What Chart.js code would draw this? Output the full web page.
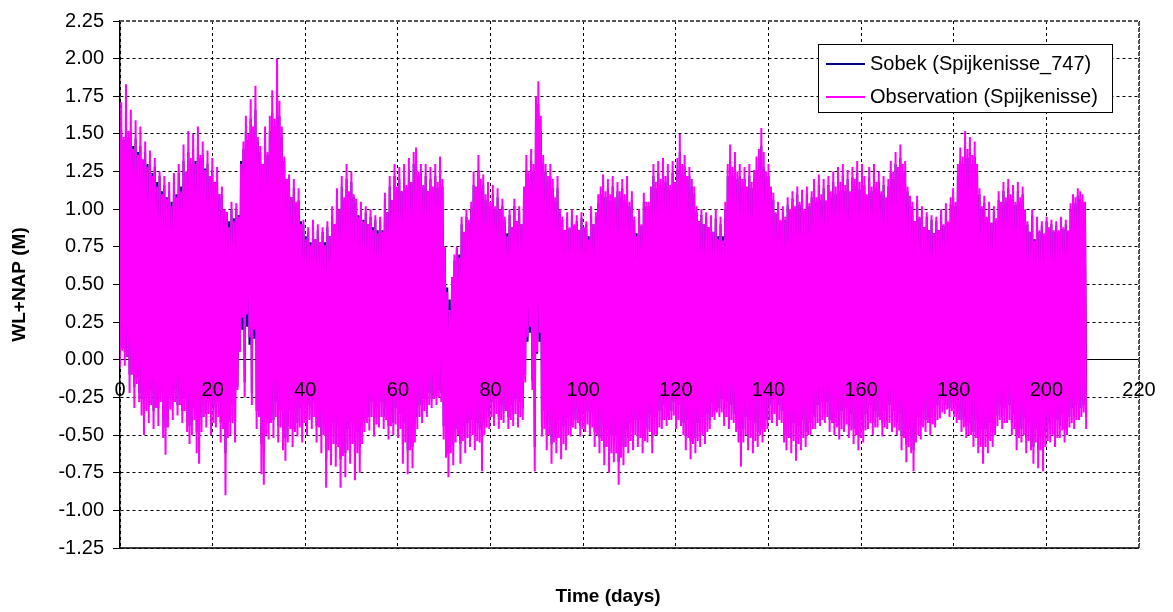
<!DOCTYPE html>
<html>
<head>
<meta charset="utf-8">
<title>Spijkenisse water level</title>
<script src="https://cdn.jsdelivr.net/npm/chart.js@4.4.1/dist/chart.umd.min.js"></script>
<style>
  html, body { margin: 0; padding: 0; background: #fff; }
  #wrap { width: 1173px; height: 612px; }
</style>
</head>
<body>
<div id="wrap"><canvas id="myChart"></canvas></div>
<script>
// Water levels (m + NAP), one low and one high water per tide.
// Each row holds ten tides, roughly 5.2 days.
const obsLow = [
  -0.05, 0.06, -0.04, 0.02, -0.22, -0.10, -0.32, -0.16, -0.28, -0.37,
  -0.50, -0.34, -0.42, -0.30, -0.46, -0.32, -0.44, -0.28, -0.52, -0.63,
  -0.45, -0.33, -0.40, -0.28, -0.37, -0.30, -0.42, -0.34, -0.48, -0.56,
  -0.50, -0.40, -0.62, -0.69, -0.48, -0.38, -0.45, -0.36, -0.50, -0.42,
  -0.45, -0.38, -0.55, -0.46, -0.90, -0.52, -0.50, -0.42, -0.55, -0.20,
  0.05, 0.28, -0.25, 0.30, 0.15, -0.30, 0.20, -0.46, -0.38, -0.76,
  -0.83, -0.50, -0.53, -0.42, -0.52, -0.38, -0.55, -0.45, -0.60, -0.67,
  -0.55, -0.46, -0.58, -0.48, -0.51, -0.45, -0.55, -0.42, -0.50, -0.40,
  -0.46, -0.38, -0.55, -0.45, -0.62, -0.50, -0.85, -0.60, -0.70, -0.56,
  -0.71, -0.58, -0.85, -0.64, -0.78, -0.60, -0.69, -0.56, -0.80, -0.62,
  -0.75, -0.56, -0.48, -0.42, -0.47, -0.38, -0.51, -0.43, -0.45, -0.38,
  -0.46, -0.40, -0.53, -0.44, -0.50, -0.43, -0.52, -0.46, -0.69, -0.55,
  -0.76, -0.60, -0.72, -0.55, -0.46, -0.38, -0.42, -0.34, -0.38, -0.30,
  -0.32, -0.26, -0.30, -0.25, -0.28, -0.53, -0.65, -0.78, -0.62, -0.70,
  -0.55, -0.50, -0.69, -0.54, -0.62, -0.52, -0.58, -0.50, -0.60, -0.54,
  -0.55, -0.74, -0.50, -0.45, -0.46, -0.38, -0.44, -0.36, -0.46, -0.40,
  -0.42, -0.34, -0.46, -0.40, -0.44, -0.36, -0.45, -0.38, -0.40, -0.15,
  0.15, 0.22, -0.20, -0.74, 0.05, 0.18, -0.51, -0.46, -0.60, -0.50,
  -0.69, -0.55, -0.62, -0.52, -0.66, -0.56, -0.60, -0.50, -0.51, -0.45,
  -0.46, -0.42, -0.51, -0.46, -0.48, -0.43, -0.50, -0.45, -0.58, -0.50,
  -0.62, -0.54, -0.70, -0.58, -0.75, -0.62, -0.68, -0.62, -0.83, -0.65,
  -0.70, -0.58, -0.62, -0.54, -0.60, -0.50, -0.58, -0.52, -0.62, -0.54,
  -0.55, -0.48, -0.62, -0.50, -0.50, -0.45, -0.46, -0.40, -0.44, -0.40,
  -0.40, -0.37, -0.46, -0.40, -0.44, -0.50, -0.60, -0.52, -0.66, -0.56,
  -0.62, -0.54, -0.58, -0.50, -0.56, -0.48, -0.46, -0.38, -0.40, -0.35,
  -0.38, -0.35, -0.44, -0.38, -0.46, -0.40, -0.42, -0.48, -0.55, -0.71,
  -0.55, -0.50, -0.60, -0.52, -0.62, -0.54, -0.58, -0.50, -0.55, -0.48,
  -0.46, -0.40, -0.42, -0.36, -0.44, -0.40, -0.42, -0.55, -0.60, -0.52,
  -0.62, -0.54, -0.67, -0.56, -0.60, -0.52, -0.58, -0.50, -0.50, -0.46,
  -0.46, -0.42, -0.44, -0.40, -0.42, -0.38, -0.48, -0.42, -0.50, -0.45,
  -0.53, -0.46, -0.48, -0.43, -0.52, -0.47, -0.56, -0.50, -0.60, -0.52,
  -0.55, -0.47, -0.46, -0.42, -0.50, -0.45, -0.45, -0.40, -0.51, -0.45,
  -0.46, -0.42, -0.48, -0.45, -0.50, -0.47, -0.60, -0.52, -0.68, -0.58,
  -0.62, -0.74, -0.55, -0.50, -0.53, -0.45, -0.48, -0.42, -0.50, -0.43,
  -0.45, -0.40, -0.39, -0.35, -0.36, -0.33, -0.38, -0.34, -0.38, -0.42,
  -0.40, -0.48, -0.45, -0.52, -0.50, -0.50, -0.58, -0.52, -0.62, -0.58,
  -0.69, -0.58, -0.62, -0.54, -0.58, -0.50, -0.44, -0.40, -0.46, -0.42,
  -0.42, -0.40, -0.50, -0.46, -0.60, -0.52, -0.55, -0.50, -0.62, -0.54,
  -0.60, -0.69, -0.55, -0.72, -0.60, -0.74, -0.58, -0.54, -0.55, -0.50,
  -0.58, -0.52, -0.52, -0.47, -0.55, -0.50, -0.45, -0.42, -0.46, -0.40,
  -0.40, -0.38, -0.35, -0.46
];
const obsHigh = [
  1.71, 1.48, 1.83, 1.52, 1.66, 1.40, 1.59, 1.36, 1.55, 1.33,
  1.45, 1.28, 1.39, 1.22, 1.34, 1.15, 1.25, 1.10, 1.22, 1.07,
  1.18, 1.02, 1.24, 1.08, 1.30, 1.12, 1.43, 1.25, 1.52, 1.34,
  1.50, 1.30, 1.55, 1.36, 1.45, 1.26, 1.39, 1.22, 1.34, 1.18,
  1.28, 1.10, 1.15, 1.00, 0.98, 0.88, 1.05, 0.92, 1.04, 0.95,
  1.30, 1.45, 1.62, 1.50, 1.73, 1.55, 1.82, 1.48, 1.42, 1.30,
  1.55, 1.38, 1.62, 1.79, 1.60, 2.00, 1.72, 1.55, 1.35, 1.20,
  1.23, 1.08, 1.20, 1.05, 1.14, 0.90, 0.93, 0.80, 0.88, 0.76,
  0.93, 0.80, 0.90, 0.78, 0.88, 0.76, 0.92, 0.82, 1.02, 0.90,
  1.14, 1.00, 1.22, 1.08, 1.30, 1.12, 1.25, 1.10, 1.07, 0.95,
  1.05, 0.92, 1.02, 0.90, 1.00, 0.86, 0.96, 0.84, 0.95, 0.85,
  1.11, 0.98, 1.22, 1.06, 1.30, 1.15, 1.28, 1.12, 1.30, 1.16,
  1.34, 1.18, 1.38, 1.41, 1.25, 1.30, 1.16, 1.30, 1.12, 1.28,
  1.15, 1.30, 1.18, 1.35, 1.20, 0.75, 0.45, 0.33, 0.55, 0.70,
  0.75, 0.68, 0.95, 0.85, 1.00, 0.93, 1.05, 1.25, 1.15, 1.36,
  1.20, 1.23, 1.10, 1.18, 1.05, 1.16, 1.02, 1.14, 1.00, 1.07,
  0.95, 0.82, 1.00, 0.88, 1.07, 0.92, 1.02, 0.90, 1.15, 1.36,
  1.25, 1.40, 1.30, 1.75, 1.85, 1.62, 1.36, 1.30, 1.22, 1.30,
  1.20, 1.08, 1.22, 1.00, 0.95, 0.86, 0.98, 0.88, 1.00, 0.90,
  0.96, 0.86, 0.98, 0.88, 0.92, 0.80, 1.02, 0.90, 0.98, 1.10,
  1.15, 1.23, 1.12, 1.20, 1.10, 1.22, 1.08, 1.18, 1.12, 1.20,
  1.10, 1.22, 1.05, 1.12, 0.95, 0.82, 1.00, 0.90, 1.11, 1.05,
  1.05, 1.15, 1.30, 1.18, 1.32, 1.20, 1.34, 1.22, 1.30, 1.16,
  1.32, 1.18, 1.34, 1.50, 1.30, 1.36, 1.22, 1.28, 1.20, 1.15,
  1.02, 0.92, 1.00, 0.90, 0.98, 0.88, 0.96, 0.85, 1.00, 0.80,
  0.95, 0.79, 1.05, 1.30, 1.43, 1.28, 1.38, 1.25, 1.30, 1.20,
  1.28, 1.15, 1.30, 1.18, 1.26, 1.35, 1.40, 1.54, 1.38, 1.25,
  1.30, 1.15, 1.11, 0.98, 1.05, 0.93, 1.02, 0.95, 1.08, 1.00,
  1.12, 1.02, 1.15, 1.05, 1.13, 1.00, 1.15, 1.04, 1.12, 1.20,
  1.08, 1.23, 1.10, 1.20, 1.06, 1.22, 1.12, 1.25, 1.15, 1.28,
  1.18, 1.30, 1.16, 1.26, 1.12, 1.28, 1.20, 1.32, 1.18, 1.30,
  1.22, 1.10, 1.28, 1.15, 1.30, 1.18, 1.25, 1.12, 1.22, 1.08,
  1.20, 1.32, 1.25, 1.38, 1.28, 1.43, 1.30, 1.32, 1.15, 1.09,
  1.05, 0.92, 1.09, 0.95, 1.02, 0.88, 0.98, 0.86, 0.96, 0.84,
  0.95, 0.86, 1.00, 0.90, 1.04, 0.92, 1.08, 1.14, 1.05, 1.30,
  1.41, 1.35, 1.52, 1.40, 1.48, 1.36, 1.45, 1.30, 1.14, 1.02,
  1.09, 0.95, 1.05, 0.91, 1.02, 0.94, 1.12, 1.05, 1.18, 1.08,
  1.20, 1.10, 1.16, 1.05, 1.18, 1.08, 1.15, 1.00, 0.92, 0.85,
  1.00, 0.79, 0.95, 0.86, 0.92, 0.84, 0.95, 0.88, 0.93, 0.86,
  0.92, 0.86, 0.95, 0.88, 0.93, 0.86, 1.04, 1.10, 1.08, 1.14,
  1.12, 1.10, 1.05
];
const sobekLow = [
  0.12, 0.08, 0.05, 0.02, -0.10, -0.06, -0.18, -0.12, -0.22, -0.26,
  -0.34, -0.24, -0.30, -0.20, -0.34, -0.24, -0.32, -0.22, -0.40, -0.45,
  -0.34, -0.24, -0.28, -0.20, -0.30, -0.22, -0.34, -0.26, -0.38, -0.44,
  -0.40, -0.32, -0.48, -0.52, -0.38, -0.30, -0.36, -0.28, -0.40, -0.32,
  -0.36, -0.28, -0.42, -0.34, -0.62, -0.40, -0.40, -0.30, -0.42, -0.18,
  0.06, 0.20, -0.15, 0.22, 0.10, -0.22, 0.14, -0.34, -0.30, -0.56,
  -0.62, -0.38, -0.42, -0.30, -0.40, -0.28, -0.44, -0.34, -0.48, -0.52,
  -0.44, -0.34, -0.46, -0.36, -0.42, -0.32, -0.44, -0.30, -0.40, -0.30,
  -0.38, -0.28, -0.44, -0.34, -0.50, -0.38, -0.66, -0.46, -0.56, -0.42,
  -0.56, -0.44, -0.66, -0.50, -0.62, -0.46, -0.56, -0.42, -0.62, -0.48,
  -0.58, -0.44, -0.40, -0.30, -0.38, -0.28, -0.42, -0.32, -0.36, -0.28,
  -0.38, -0.30, -0.44, -0.34, -0.42, -0.32, -0.44, -0.36, -0.56, -0.42,
  -0.60, -0.46, -0.58, -0.42, -0.38, -0.30, -0.34, -0.26, -0.30, -0.22,
  -0.26, -0.20, -0.24, -0.20, -0.22, -0.44, -0.52, -0.62, -0.50, -0.56,
  -0.46, -0.40, -0.56, -0.44, -0.52, -0.42, -0.48, -0.40, -0.50, -0.42,
  -0.46, -0.60, -0.42, -0.34, -0.38, -0.28, -0.36, -0.26, -0.38, -0.30,
  -0.34, -0.26, -0.38, -0.30, -0.36, -0.26, -0.38, -0.28, -0.32, -0.10,
  0.12, 0.18, -0.14, -0.58, 0.04, 0.12, -0.42, -0.34, -0.50, -0.38,
  -0.56, -0.42, -0.52, -0.40, -0.54, -0.44, -0.50, -0.38, -0.44, -0.34,
  -0.40, -0.32, -0.44, -0.36, -0.42, -0.34, -0.44, -0.35, -0.48, -0.40,
  -0.52, -0.42, -0.58, -0.46, -0.62, -0.50, -0.56, -0.50, -0.68, -0.52,
  -0.58, -0.46, -0.52, -0.42, -0.50, -0.40, -0.48, -0.40, -0.52, -0.42,
  -0.46, -0.36, -0.52, -0.38, -0.42, -0.34, -0.40, -0.30, -0.38, -0.30,
  -0.34, -0.28, -0.40, -0.30, -0.36, -0.42, -0.50, -0.40, -0.54, -0.44,
  -0.52, -0.42, -0.48, -0.38, -0.46, -0.36, -0.40, -0.28, -0.34, -0.26,
  -0.32, -0.26, -0.38, -0.28, -0.40, -0.30, -0.36, -0.40, -0.46, -0.58,
  -0.46, -0.38, -0.50, -0.40, -0.52, -0.42, -0.48, -0.38, -0.46, -0.36,
  -0.40, -0.30, -0.36, -0.26, -0.38, -0.30, -0.34, -0.46, -0.50, -0.40,
  -0.52, -0.42, -0.56, -0.44, -0.50, -0.40, -0.48, -0.38, -0.42, -0.36,
  -0.38, -0.30, -0.38, -0.28, -0.36, -0.28, -0.40, -0.30, -0.42, -0.34,
  -0.44, -0.34, -0.40, -0.32, -0.44, -0.36, -0.46, -0.38, -0.50, -0.40,
  -0.46, -0.36, -0.40, -0.30, -0.42, -0.34, -0.38, -0.30, -0.42, -0.34,
  -0.40, -0.30, -0.40, -0.34, -0.42, -0.36, -0.50, -0.40, -0.56, -0.46,
  -0.52, -0.60, -0.46, -0.38, -0.44, -0.34, -0.40, -0.30, -0.42, -0.32,
  -0.38, -0.30, -0.33, -0.26, -0.30, -0.24, -0.32, -0.26, -0.30, -0.36,
  -0.34, -0.40, -0.38, -0.44, -0.42, -0.38, -0.48, -0.40, -0.52, -0.46,
  -0.56, -0.46, -0.52, -0.42, -0.48, -0.38, -0.37, -0.30, -0.38, -0.32,
  -0.36, -0.30, -0.42, -0.36, -0.50, -0.40, -0.46, -0.38, -0.52, -0.42,
  -0.50, -0.58, -0.46, -0.60, -0.50, -0.62, -0.48, -0.42, -0.46, -0.38,
  -0.48, -0.40, -0.44, -0.36, -0.46, -0.38, -0.38, -0.32, -0.38, -0.30,
  -0.34, -0.32, -0.30, -0.38
];
const sobekHigh = [
  1.52, 1.46, 1.56, 1.48, 1.52, 1.42, 1.47, 1.38, 1.42, 1.33,
  1.38, 1.30, 1.32, 1.24, 1.28, 1.18, 1.22, 1.12, 1.16, 1.08,
  1.12, 1.05, 1.18, 1.10, 1.24, 1.15, 1.32, 1.24, 1.38, 1.30,
  1.40, 1.32, 1.42, 1.34, 1.36, 1.27, 1.30, 1.22, 1.26, 1.18,
  1.18, 1.10, 1.08, 1.00, 0.98, 0.92, 1.00, 0.94, 1.00, 0.96,
  1.32, 1.40, 1.52, 1.46, 1.60, 1.50, 1.66, 1.45, 1.38, 1.30,
  1.45, 1.36, 1.52, 1.64, 1.55, 1.80, 1.62, 1.48, 1.32, 1.20,
  1.18, 1.08, 1.14, 1.04, 1.06, 0.92, 0.90, 0.82, 0.85, 0.78,
  0.88, 0.80, 0.86, 0.78, 0.85, 0.78, 0.88, 0.82, 0.96, 0.90,
  1.08, 1.00, 1.15, 1.06, 1.20, 1.10, 1.18, 1.08, 1.04, 0.96,
  1.00, 0.93, 0.98, 0.90, 0.95, 0.88, 0.93, 0.86, 0.92, 0.86,
  1.06, 0.98, 1.15, 1.06, 1.22, 1.12, 1.20, 1.12, 1.22, 1.14,
  1.26, 1.18, 1.30, 1.32, 1.22, 1.24, 1.15, 1.22, 1.12, 1.20,
  1.12, 1.22, 1.14, 1.26, 1.15, 0.74, 0.48, 0.40, 0.54, 0.66,
  0.74, 0.70, 0.90, 0.84, 0.95, 0.90, 1.00, 1.16, 1.10, 1.26,
  1.14, 1.16, 1.06, 1.12, 1.02, 1.10, 1.00, 1.08, 0.98, 1.02,
  0.92, 0.84, 0.96, 0.88, 1.02, 0.92, 0.98, 0.90, 1.08, 1.26,
  1.20, 1.32, 1.25, 1.60, 1.70, 1.52, 1.30, 1.25, 1.18, 1.22,
  1.14, 1.05, 1.14, 0.98, 0.93, 0.86, 0.94, 0.87, 0.96, 0.89,
  0.92, 0.86, 0.94, 0.87, 0.90, 0.82, 0.97, 0.90, 0.95, 1.04,
  1.10, 1.16, 1.08, 1.14, 1.06, 1.15, 1.05, 1.12, 1.08, 1.14,
  1.06, 1.14, 1.02, 1.06, 0.93, 0.84, 0.96, 0.89, 1.05, 1.02,
  1.02, 1.10, 1.22, 1.14, 1.24, 1.16, 1.25, 1.18, 1.22, 1.13,
  1.24, 1.15, 1.26, 1.38, 1.24, 1.28, 1.18, 1.22, 1.15, 1.10,
  0.98, 0.92, 0.96, 0.90, 0.95, 0.88, 0.92, 0.85, 0.94, 0.82,
  0.90, 0.82, 1.00, 1.22, 1.32, 1.22, 1.28, 1.20, 1.22, 1.15,
  1.20, 1.12, 1.22, 1.14, 1.20, 1.26, 1.30, 1.42, 1.28, 1.20,
  1.22, 1.12, 1.06, 0.97, 1.00, 0.92, 0.98, 0.93, 1.03, 0.98,
  1.07, 1.00, 1.10, 1.03, 1.08, 0.99, 1.10, 1.02, 1.08, 1.14,
  1.05, 1.16, 1.06, 1.14, 1.03, 1.16, 1.08, 1.18, 1.10, 1.20,
  1.12, 1.22, 1.12, 1.20, 1.08, 1.21, 1.15, 1.24, 1.13, 1.22,
  1.16, 1.08, 1.21, 1.12, 1.22, 1.14, 1.18, 1.10, 1.16, 1.06,
  1.15, 1.24, 1.20, 1.30, 1.22, 1.34, 1.24, 1.25, 1.12, 1.06,
  1.02, 0.92, 1.04, 0.94, 0.98, 0.88, 0.95, 0.86, 0.93, 0.84,
  0.92, 0.86, 0.96, 0.89, 0.99, 0.91, 1.03, 1.08, 1.02, 1.22,
  1.32, 1.30, 1.40, 1.34, 1.38, 1.30, 1.35, 1.24, 1.10, 1.00,
  1.04, 0.94, 1.00, 0.91, 0.98, 0.92, 1.06, 1.02, 1.12, 1.05,
  1.14, 1.07, 1.12, 1.03, 1.12, 1.05, 1.10, 0.98, 0.90, 0.85,
  0.96, 0.80, 0.92, 0.85, 0.89, 0.83, 0.92, 0.87, 0.90, 0.85,
  0.89, 0.85, 0.92, 0.87, 0.90, 0.85, 1.00, 1.05, 1.04, 1.09,
  1.07, 1.05, 1.01
];

const dayTicks = [0, 20, 40, 60, 80, 100, 120, 140, 160, 180, 200, 220];
const levelTicks = [-1.25, -1.00, -0.75, -0.50, -0.25, 0.00, 0.25, 0.50, 0.75,
                    1.00, 1.25, 1.50, 1.75, 2.00, 2.25];

const halfTide = 0.2588; // days from low water to the following high water

// Interleave lows and highs into one time series
function tideSeries(lows, highs) {
    const points = [];
    lows.forEach((low, i) => {
        points.push({ x: 2 * i * halfTide, y: low });
        if (i < highs.length) {
            points.push({ x: (2 * i + 1) * halfTide, y: highs[i] });
        }
    });
    return points;
}

const FONT = "'Liberation Sans', Arial, Helvetica, sans-serif";
Chart.defaults.font.family = FONT;
Chart.defaults.color = '#000';

// Plot frame, legend box and x axis title
const extras = {
    id: 'extras',
    beforeDatasetsDraw(chart) {
        const { ctx, chartArea: a } = chart;
        ctx.save();
        ctx.strokeStyle = '#555';
        ctx.lineWidth = 2;
        ctx.setLineDash([4, 2]);
        ctx.beginPath();
        ctx.moveTo(a.left, a.top);
        ctx.lineTo(a.right, a.top);
        ctx.lineTo(a.right, a.bottom);
        ctx.stroke();
        ctx.setLineDash([]);
        ctx.strokeStyle = '#000';
        ctx.lineWidth = 1.5;
        ctx.beginPath();
        ctx.moveTo(a.left, a.bottom);
        ctx.lineTo(a.right, a.bottom);
        ctx.stroke();
        ctx.restore();
    },
    afterDraw(chart) {
        const ctx = chart.ctx;
        ctx.save();
        // legend
        ctx.fillStyle = '#fff';
        ctx.fillRect(818, 44, 294, 68);
        ctx.strokeStyle = '#000';
        ctx.lineWidth = 1;
        ctx.strokeRect(818.5, 44.5, 294, 68);
        ctx.font = '20px ' + FONT;
        ctx.textAlign = 'left';
        ctx.textBaseline = 'middle';
        chart.data.datasets.forEach((ds, i) => {
            const y = 64 + i * 33;
            ctx.strokeStyle = ds.borderColor;
            ctx.lineWidth = 2;
            ctx.beginPath();
            ctx.moveTo(826, y);
            ctx.lineTo(865, y);
            ctx.stroke();
            ctx.fillStyle = '#000';
            ctx.fillText(ds.label, 870, y);
        });
        // x axis title
        ctx.font = 'bold 19px ' + FONT;
        ctx.textAlign = 'center';
        ctx.fillText('Time (days)', 608, 597);
        ctx.restore();
    }
};

const ctx = document.getElementById('myChart');

const myChart = new Chart(ctx, {
    type: 'line',
    data: {
        datasets: [
            {
                label: 'Sobek (Spijkenisse_747)',
                data: tideSeries(sobekLow, sobekHigh),
                borderColor: '#000080',
                borderWidth: 2,
                order: 1
            },
            {
                label: 'Observation (Spijkenisse)',
                data: tideSeries(obsLow, obsHigh),
                borderColor: '#FF00FF',
                borderWidth: 2,
                order: 0
            }
        ]
    },
    options: {
        responsive: true,
        maintainAspectRatio: false,
        animation: false,
        parsing: false,
        normalized: true,
        elements: {
            point: { radius: 0, hoverRadius: 0 },
            line: { tension: 0, fill: false }
        },
        layout: { padding: { left: 0, top: 18, right: 34, bottom: 64 } },
        plugins: {
            legend: { display: false },
            tooltip: { enabled: false }
        },
        scales: {
            x: {
                type: 'linear',
                position: { y: 0 },
                min: 0,
                max: 220,
                afterBuildTicks: axis => { axis.ticks = dayTicks.map(v => ({ value: v })); },
                ticks: {
                    callback: v => String(v),
                    font: { size: 20 },
                    color: '#000',
                    padding: 14,
                    maxRotation: 0,
                    autoSkip: false,
                    z: 1
                },
                grid: {
                    color: '#000',
                    lineWidth: 1,
                    tickLength: 5,
                    tickColor: '#000'
                },
                border: { display: true, color: '#000', width: 1, dash: [3, 3] }
            },
            y: {
                type: 'linear',
                min: -1.25,
                max: 2.25,
                afterBuildTicks: axis => { axis.ticks = levelTicks.map(v => ({ value: v })); },
                afterFit: scale => { scale.width = 120; },
                ticks: {
                    callback: v => v.toFixed(2),
                    font: { size: 20 },
                    color: '#000',
                    padding: 9,
                    autoSkip: false
                },
                grid: {
                    color: '#000',
                    lineWidth: 1,
                    tickLength: 7,
                    tickColor: '#000'
                },
                border: { display: true, color: '#000', width: 1.5, dash: [3, 3] },
                title: {
                    display: true,
                    text: 'WL+NAP (M)',
                    font: { size: 19, weight: 'bold' },
                    color: '#000',
                    padding: { top: 8, bottom: 0 }
                }
            }
        }
    },
    plugins: [extras]
});
</script>
</body>
</html>
